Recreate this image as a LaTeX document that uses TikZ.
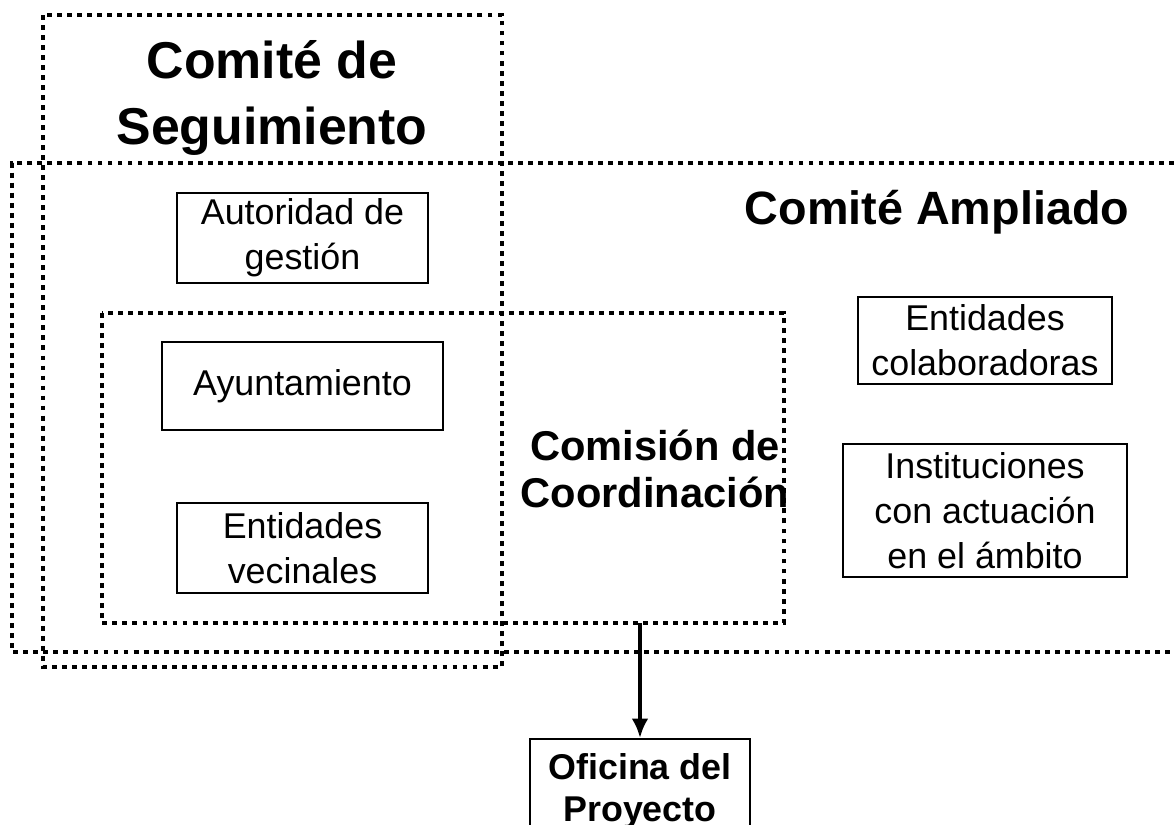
\documentclass[tikz,border=0pt]{standalone}
\usepackage{fontspec}
\setmainfont{Liberation Sans}
\usetikzlibrary{arrows.meta}
\tikzset{>={Latex[length=11pt,width=9.5pt]}, grupo/.style = {line width=2.8pt,
    dash pattern=on 2.8pt off 2.9pt},%
  caja/.style = {draw, line width=1.1pt, align=center, inner sep=0pt,
    font=\fontsize{20.4}{25.5}\selectfont},%
  titulo/.style = {align=center, font=\bfseries\fontsize{29.5}{37.4}\selectfont}}

\begin{document}
\begin{tikzpicture}[x=0.02cm, y=-0.02cm]
  \useasboundingbox (0,0) rectangle (1174,825);
  % grupos punteados
  \draw[grupo] (43,15) rectangle (502,667);
  \draw[grupo] (1174,163) -- (12,163) -- (12,652) -- (1174,652);
  \draw[grupo] (102,313) rectangle (784,623);
  \node[titulo] (seguimiento) at (272,98) {Comité de\\Seguimiento};
  \node[titulo, font=\bfseries\fontsize{26.6}{33}\selectfont] (ampliado) at (937,212) {Comité Ampliado};
  \node[titulo, font=\bfseries\fontsize{23.7}{26.6}\selectfont] (coordinacion) at (655,469) {Comisión de\\Coordinación};
  % miembros
  \node[caja, minimum width=5.02cm, minimum height=1.8cm] (autoridad) at (302.5,238) {Autoridad de\\gestión};
  \node[caja, minimum width=5.62cm, minimum height=1.76cm] (ayto) at (302.5,386) {Ayuntamiento};
  \node[caja, minimum width=5.02cm, minimum height=1.8cm] (vecinales) at (302.5,548) {Entidades\\vecinales};
  \node[caja, minimum width=5.08cm, minimum height=1.74cm] (colab) at (985,340.5) {Entidades\\colaboradoras};
  \node[caja, minimum width=5.68cm, minimum height=2.66cm] (instit) at (985,510.5) {Instituciones\\con actuación\\en el ámbito};
  \node[caja, font=\bfseries\fontsize{20.4}{23.8}\selectfont, minimum width=4.4cm,
    minimum height=2.1cm, anchor=north] (oficina) at (640,738) {Oficina del\\Proyecto};
  \coordinate (salida) at (640,623);
  \draw[->, line width=2.2pt] (salida) -- (oficina);
\end{tikzpicture}
\end{document}
